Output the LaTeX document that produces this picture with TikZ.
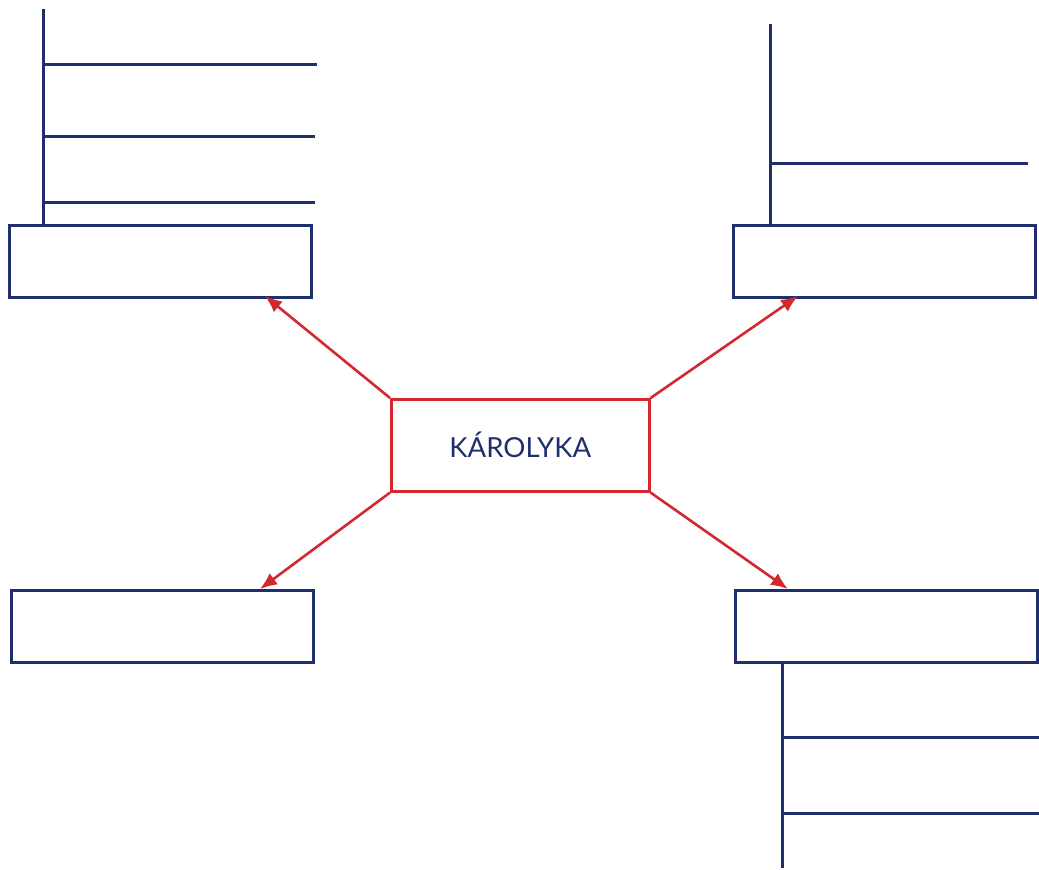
\documentclass[tikz,border=0pt]{standalone}
\usepackage{fontspec}
\newfontfamily\labelfont{Lato}
\usetikzlibrary{arrows.meta}
\definecolor{navy}{RGB}{31,47,110}
\definecolor{redline}{RGB}{211,40,46}
\begin{document}
\begin{tikzpicture}[x=1pt,y=-1pt,
  box/.style={draw=navy,line width=3pt,minimum width=302pt,minimum height=72pt,inner sep=0pt,anchor=north west},
  centre/.style={draw=redline,line width=2.6pt,minimum width=258pt,minimum height=92pt,inner sep=0pt,anchor=north west,text=navy,font=\labelfont\fontsize{27.6}{32}\selectfont},
  arr/.style={draw=redline,line width=2.6pt,-{Latex[length=17pt,width=14pt]}},
  rule/.style={draw=navy,line width=3pt}]
\useasboundingbox (0,0) rectangle (1039,870);
% boxes
\node[centre] (c) at (390,398) {KÁROLYKA};
\node[box] (tl) at (8,224) {};
\node[box] (tr) at (732,224) {};
\node[box] (bl) at (10,589) {};
\node[box] (br) at (734,589) {};
% arrow tips
\coordinate (tltip) at (265,296);
\coordinate (trtip) at (798,296);
\coordinate (bltip) at (260,589);
\coordinate (brtip) at (788,589);
\draw[arr] (c.north west) -- (tltip);
\draw[arr] (c.north east) -- (trtip);
\draw[arr] (c.south west) -- (bltip);
\draw[arr] (c.south east) -- (brtip);
% top-left rules
\coordinate (tla) at (43,9);
\draw[rule] (tla) -- (tl.north west -| tla);
\coordinate (tlh1) at (317,64);
\coordinate (tlh2) at (315,136);
\coordinate (tlh3) at (315,202);
\draw[rule] (tla |- tlh1) -- (tlh1);
\draw[rule] (tla |- tlh2) -- (tlh2);
\draw[rule] (tla |- tlh3) -- (tlh3);
% top-right rules
\coordinate (tra) at (770,24);
\draw[rule] (tra) -- (tr.north west -| tra);
\coordinate (trh1) at (1028,163);
\draw[rule] (tra |- trh1) -- (trh1);
% bottom-right rules
\coordinate (bra) at (782,868);
\draw[rule] (br.south west -| bra) -- (bra);
\coordinate (brh1) at (1039,737);
\coordinate (brh2) at (1039,813);
\draw[rule] (bra |- brh1) -- (brh1);
\draw[rule] (bra |- brh2) -- (brh2);
\end{tikzpicture}
\end{document}
